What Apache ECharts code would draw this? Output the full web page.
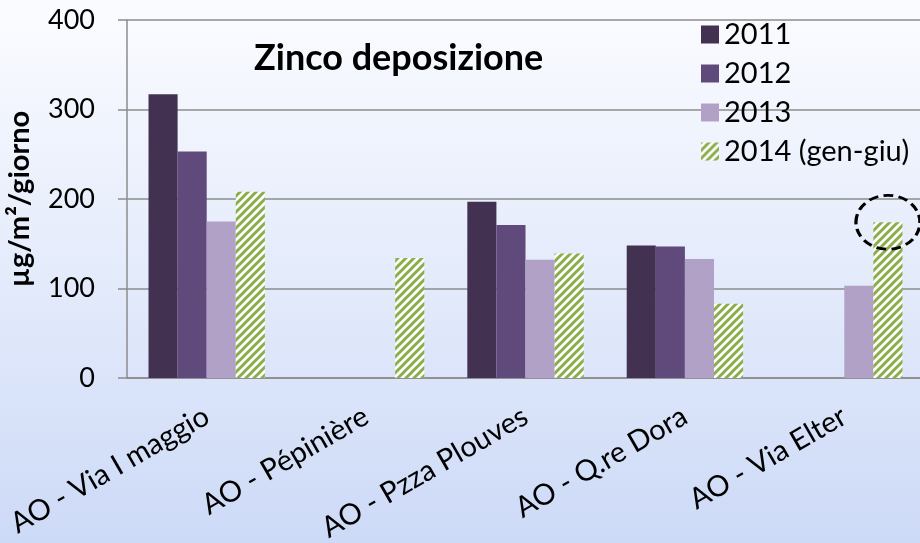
<!DOCTYPE html>
<html>
<head>
<meta charset="utf-8">
<script src="https://cdn.jsdelivr.net/npm/echarts@6/dist/echarts.min.js"></script>
<style>
  html, body { margin: 0; padding: 0; }
  #chart { width: 920px; height: 543px; }
</style>
</head>
<body>
<div id="chart"></div>
<script>
// dati
var categories = ["AO - Via I maggio", "AO - Pépinière", "AO - Pzza Plouves", "AO - Q.re Dora", "AO - Via Elter"];
var years = ["2011", "2012", "2013", "2014 (gen-giu)"];
var data2011 = [317, null, 197, 148, null];
var data2012 = [253, null, 171, 147, null];
var data2013 = [175, null, 132, 133, 103];
var data2014 = [208, 134, 139, 83, 174];
var yTicks = [0, 100, 200, 300, 400];

// tratteggio verde per il 2014
function stripes() {
  var c = document.createElement("canvas");
  c.width = 8;
  c.height = 8;
  var ctx = c.getContext("2d");
  ctx.fillStyle = "#ffffff";
  ctx.fillRect(0, 0, 8, 8);
  ctx.strokeStyle = "#8aae4a";
  ctx.lineWidth = 3;
  ctx.beginPath();
  ctx.moveTo(-2, 10); ctx.lineTo(10, -2);
  ctx.moveTo(-2, 2); ctx.lineTo(2, -2);
  ctx.moveTo(6, 10); ctx.lineTo(10, 6);
  ctx.stroke();
  return c;
}

var font = "Lato, 'Noto Sans', sans-serif";
var axisGray = "#8c8c8c";

var myChart = echarts.init(document.getElementById("chart"));
myChart.setOption({
  animation: false,
  backgroundColor: {
    type: "linear", x: 0, y: 0, x2: 0, y2: 1,
    colorStops: [
      { offset: 0, color: "#fbfcff" },
      { offset: 1, color: "#cddaf7" }
    ]
  },
  textStyle: { fontFamily: font, color: "#000" },
  title: {
    text: "Zinco deposizione",
    left: 249,
    top: 35,
    textStyle: { fontFamily: font, fontSize: 36, fontWeight: "bold", color: "#000" }
  },
  legend: {
    orient: "vertical",
    left: 701,
    top: 20,
    padding: 0,
    itemWidth: 18,
    itemHeight: 18,
    itemGap: 10,
    icon: "rect",
    textStyle: { fontFamily: font, fontSize: 29, color: "#000" },
    data: years
  },
  grid: { left: 127, right: -4, top: 20, bottom: 165, outerBoundsMode: "none" },
  xAxis: {
    type: "category",
    data: categories,
    axisLine: { lineStyle: { color: axisGray, width: 1.5 } },
    axisTick: { length: 7, lineStyle: { color: axisGray, width: 1.5 } },
    axisLabel: { interval: 0, rotate: 30, margin: 36, fontSize: 29, color: "#000", fontFamily: font }
  },
  yAxis: {
    type: "value",
    min: yTicks[0],
    max: yTicks[yTicks.length - 1],
    interval: yTicks[1] - yTicks[0],
    name: "µg/m²/giorno",
    nameLocation: "middle",
    nameRotate: 90,
    nameGap: 93,
    nameTextStyle: { fontFamily: font, fontSize: 29, fontWeight: "bold", color: "#000" },
    axisLine: { show: true, lineStyle: { color: axisGray, width: 1.5 } },
    axisTick: { show: true, length: 9, lineStyle: { color: axisGray, width: 1.5 } },
    axisLabel: { margin: 32, fontSize: 27, color: "#000", fontFamily: font },
    splitLine: { lineStyle: { color: axisGray, width: 1.5 } }
  },
  series: [
    {
      name: years[0], type: "bar", data: data2011,
      barGap: 0, barCategoryGap: "27%",
      itemStyle: { color: "#433151" }
    },
    {
      name: years[1], type: "bar", data: data2012,
      itemStyle: { color: "#604a7b" }
    },
    {
      name: years[2], type: "bar", data: data2013,
      itemStyle: { color: "#b2a1c7" }
    },
    {
      name: years[3], type: "bar", data: data2014,
      itemStyle: { color: { image: stripes(), repeat: "repeat" } },
      // cerchio tratteggiato su Via Elter
      markPoint: {
        silent: true,
        symbol: "path://M0,40 A50,40 0 1,1 100,40 A50,40 0 1,1 0,40 Z",
        symbolSize: [64, 54],
        label: { show: false },
        itemStyle: { color: "transparent", borderColor: "#000", borderWidth: 3, borderType: [9, 5] },
        data: [{ coord: [categories[4], data2014[4]] }]
      }
    }
  ]
});
</script>
</body>
</html>
